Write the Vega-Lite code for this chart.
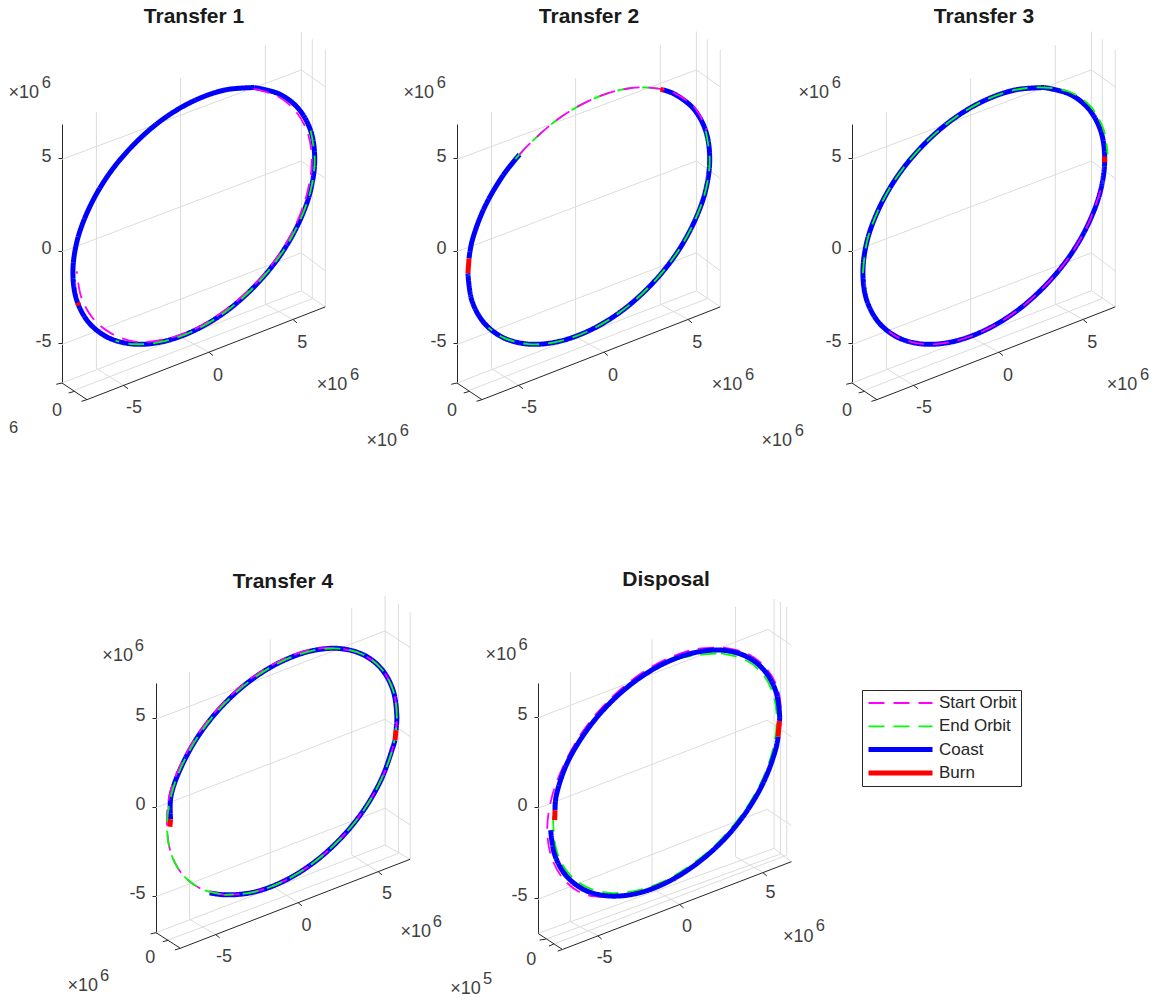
{"$schema":"https://vega.github.io/schema/vega-lite/v6.json","padding":{"left":8,"top":5,"right":0,"bottom":0},"background":"white","config":{"view":{"stroke":null},"title":{"font":"Liberation Sans","fontSize":21,"fontWeight":"bold","color":"#1a1a1a"},"axis":{"labelFont":"Liberation Sans","labelFontSize":18,"labelColor":"#404040","domainColor":"#262626","tickColor":"#262626","grid":false,"title":null,"tickSize":4,"labelPadding":7,"labelOffset":-2,"labelExpr":"datum.value==-5?'-5':datum.label"}},"resolve":{"scale":{"stroke":"independent","strokeDash":"independent","strokeWidth":"independent"}},"datasets":{"box13":[{"k":"grid","g":1,"u":1.86,"z":7.51},{"k":"grid","g":1,"u":1.86,"z":-6.36},{"k":"grid","g":1,"u":3.33,"z":-7.27},{"k":"grid","g":2,"u":6.41,"z":9.32},{"k":"grid","g":2,"u":6.41,"z":-4.65},{"k":"grid","g":2,"u":7.95,"z":-5.48},{"k":"grid","g":3,"u":10.99,"z":11.12},{"k":"grid","g":3,"u":10.99,"z":-2.88},{"k":"grid","g":3,"u":12.49,"z":-3.71},{"k":"grid","g":4,"u":12.94,"z":11.84},{"k":"grid","g":4,"u":12.94,"z":-2.16},{"k":"grid","g":4,"u":14.23,"z":-3.03},{"k":"grid","g":5,"u":13.53,"z":11.42},{"k":"grid","g":5,"u":13.53,"z":-2.58},{"k":"grid","g":6,"u":14.23,"z":10.85},{"k":"grid","g":6,"u":14.23,"z":-3.03},{"k":"grid","g":7,"u":0,"z":4.94},{"k":"grid","g":7,"u":12.94,"z":9.77},{"k":"grid","g":7,"u":14.23,"z":8.86},{"k":"grid","g":8,"u":0,"z":-0.05},{"k":"grid","g":8,"u":12.94,"z":4.85},{"k":"grid","g":8,"u":14.23,"z":3.91},{"k":"grid","g":9,"u":0,"z":-5.06},{"k":"grid","g":9,"u":12.94,"z":-0.11},{"k":"grid","g":9,"u":14.23,"z":-1.08},{"k":"grid","g":10,"u":0,"z":-7.14},{"k":"grid","g":10,"u":12.94,"z":-2.16},{"k":"grid","g":11,"u":0.68,"z":-7.53},{"k":"grid","g":11,"u":13.53,"z":-2.58},{"k":"axis","g":20,"u":0,"z":-7.14},{"k":"axis","g":20,"u":1.35,"z":-8.04},{"k":"axis","g":20,"u":14.23,"z":-3.03},{"k":"axis","g":21,"u":3.33,"z":-7.27},{"k":"axis","g":21,"u":3.57,"z":-7.45},{"k":"axis","g":22,"u":7.95,"z":-5.48},{"k":"axis","g":22,"u":8.16,"z":-5.66},{"k":"axis","g":23,"u":12.49,"z":-3.71},{"k":"axis","g":23,"u":12.7,"z":-3.89},{"k":"axis","g":24,"u":0,"z":-7.14},{"k":"axis","g":24,"u":-0.31,"z":-7.21},{"k":"axis","g":25,"u":0.68,"z":-7.59},{"k":"axis","g":25,"u":0.36,"z":-7.68},{"k":"axis","g":26,"u":1.35,"z":-8.04},{"k":"axis","g":26,"u":1.05,"z":-8.13}],"box4":[{"k":"grid","g":1,"u":1.89,"z":7.6},{"k":"grid","g":1,"u":1.89,"z":-6.34},{"k":"grid","g":1,"u":3.36,"z":-7.2},{"k":"grid","g":2,"u":6.42,"z":9.42},{"k":"grid","g":2,"u":6.42,"z":-4.41},{"k":"grid","g":2,"u":7.99,"z":-5.4},{"k":"grid","g":3,"u":11.01,"z":11.16},{"k":"grid","g":3,"u":11.01,"z":-2.72},{"k":"grid","g":3,"u":12.5,"z":-3.66},{"k":"grid","g":4,"u":12.89,"z":11.86},{"k":"grid","g":4,"u":12.89,"z":-2.16},{"k":"grid","g":4,"u":14.3,"z":-2.96},{"k":"grid","g":5,"u":13.64,"z":11.39},{"k":"grid","g":5,"u":13.64,"z":-2.63},{"k":"grid","g":6,"u":14.3,"z":10.98},{"k":"grid","g":6,"u":14.3,"z":-2.96},{"k":"grid","g":7,"u":0,"z":4.92},{"k":"grid","g":7,"u":12.89,"z":9.89},{"k":"grid","g":7,"u":14.3,"z":8.95},{"k":"grid","g":8,"u":0,"z":-0.06},{"k":"grid","g":8,"u":12.89,"z":4.92},{"k":"grid","g":8,"u":14.3,"z":3.94},{"k":"grid","g":9,"u":0,"z":-5.07},{"k":"grid","g":9,"u":12.89,"z":-0.09},{"k":"grid","g":9,"u":14.3,"z":-1.03},{"k":"grid","g":10,"u":0,"z":-7.09},{"k":"grid","g":10,"u":12.89,"z":-2.16},{"k":"grid","g":11,"u":0.69,"z":-7.5},{"k":"grid","g":11,"u":13.64,"z":-2.63},{"k":"axis","g":20,"u":0,"z":-7.09},{"k":"axis","g":20,"u":1.37,"z":-7.97},{"k":"axis","g":20,"u":14.3,"z":-2.96},{"k":"axis","g":21,"u":3.36,"z":-7.2},{"k":"axis","g":21,"u":3.58,"z":-7.38},{"k":"axis","g":22,"u":7.99,"z":-5.4},{"k":"axis","g":22,"u":8.21,"z":-5.58},{"k":"axis","g":23,"u":12.5,"z":-3.66},{"k":"axis","g":23,"u":12.72,"z":-3.84},{"k":"axis","g":24,"u":0,"z":-7.09},{"k":"axis","g":24,"u":-0.3,"z":-7.16},{"k":"axis","g":25,"u":0.69,"z":-7.52},{"k":"axis","g":25,"u":0.38,"z":-7.6},{"k":"axis","g":26,"u":1.37,"z":-7.97},{"k":"axis","g":26,"u":1.07,"z":-8.06}],"box5":[{"k":"grid","g":1,"u":1.79,"z":7.49},{"k":"grid","g":1,"u":1.79,"z":-6.32},{"k":"grid","g":1,"u":3.31,"z":-7.1},{"k":"grid","g":2,"u":6.3,"z":9.28},{"k":"grid","g":2,"u":6.3,"z":-4.47},{"k":"grid","g":2,"u":7.83,"z":-5.37},{"k":"grid","g":3,"u":10.91,"z":11.08},{"k":"grid","g":3,"u":10.91,"z":-2.73},{"k":"grid","g":3,"u":12.43,"z":-3.61},{"k":"grid","g":4,"u":13.04,"z":11.51},{"k":"grid","g":4,"u":13.04,"z":-2.27},{"k":"grid","g":4,"u":14.0,"z":-3.0},{"k":"grid","g":5,"u":13.39,"z":11.36},{"k":"grid","g":5,"u":13.39,"z":-2.58},{"k":"grid","g":6,"u":13.74,"z":11.07},{"k":"grid","g":6,"u":13.74,"z":-2.64},{"k":"grid","g":7,"u":0,"z":4.95},{"k":"grid","g":7,"u":12.71,"z":9.83},{"k":"grid","g":7,"u":14.0,"z":8.95},{"k":"grid","g":8,"u":0,"z":-0.05},{"k":"grid","g":8,"u":12.65,"z":4.82},{"k":"grid","g":8,"u":14.0,"z":3.9},{"k":"grid","g":9,"u":0,"z":-5.08},{"k":"grid","g":9,"u":12.65,"z":-0.11},{"k":"grid","g":9,"u":14.0,"z":-1.0},{"k":"grid","g":10,"u":0,"z":-6.96},{"k":"grid","g":10,"u":13.04,"z":-2.27},{"k":"grid","g":11,"u":0.43,"z":-7.28},{"k":"grid","g":11,"u":13.39,"z":-2.58},{"k":"grid","g":12,"u":0.87,"z":-7.55},{"k":"grid","g":12,"u":13.74,"z":-2.64},{"k":"axis","g":20,"u":0,"z":-6.96},{"k":"axis","g":20,"u":1.35,"z":-7.85},{"k":"axis","g":20,"u":14.0,"z":-3.0},{"k":"axis","g":21,"u":3.31,"z":-7.1},{"k":"axis","g":21,"u":3.52,"z":-7.28},{"k":"axis","g":22,"u":7.83,"z":-5.37},{"k":"axis","g":22,"u":8.04,"z":-5.55},{"k":"axis","g":23,"u":12.43,"z":-3.61},{"k":"axis","g":23,"u":12.64,"z":-3.79},{"k":"axis","g":24,"u":0.43,"z":-7.28},{"k":"axis","g":24,"u":0.09,"z":-7.33},{"k":"axis","g":25,"u":0.87,"z":-7.55},{"k":"axis","g":25,"u":0.61,"z":-7.66},{"k":"axis","g":26,"u":1.35,"z":-7.85},{"k":"axis","g":26,"u":1.09,"z":-7.94}],"labels":[{"p":"T1","t":"-5","u":3.89,"z":-8.47},{"p":"T1","t":"0","u":8.43,"z":-6.77},{"p":"T1","t":"5","u":12.99,"z":-4.97},{"p":"T1","t":"0","u":-0.27,"z":-8.65},{"p":"T1","t":"×10","u":14.6,"z":-7.26},{"p":"T1","t":"×10","u":-2.07,"z":8.5},{"p":"T2","t":"-5","u":3.89,"z":-8.47},{"p":"T2","t":"0","u":8.43,"z":-6.77},{"p":"T2","t":"5","u":12.99,"z":-4.97},{"p":"T2","t":"0","u":-0.27,"z":-8.65},{"p":"T2","t":"×10","u":14.6,"z":-7.26},{"p":"T2","t":"×10","u":-2.07,"z":8.5},{"p":"T2","t":"×10","u":-4.07,"z":-10.29},{"p":"T3","t":"-5","u":3.89,"z":-8.47},{"p":"T3","t":"0","u":8.43,"z":-6.77},{"p":"T3","t":"5","u":12.99,"z":-4.97},{"p":"T3","t":"0","u":-0.27,"z":-8.65},{"p":"T3","t":"×10","u":14.6,"z":-7.26},{"p":"T3","t":"×10","u":-2.07,"z":8.5},{"p":"T3","t":"×10","u":-4.07,"z":-10.29},{"p":"T4","t":"-5","u":3.83,"z":-8.44},{"p":"T4","t":"0","u":8.46,"z":-6.72},{"p":"T4","t":"5","u":13.0,"z":-4.92},{"p":"T4","t":"0","u":-0.32,"z":-8.54},{"p":"T4","t":"×10","u":14.61,"z":-7.03},{"p":"T4","t":"×10","u":-2.16,"z":8.5},{"p":"T4","t":"×10","u":-4.12,"z":-10.12},{"p":"T5","t":"-5","u":3.68,"z":-8.34},{"p":"T5","t":"0","u":8.23,"z":-6.59},{"p":"T5","t":"5","u":12.84,"z":-4.75},{"p":"T5","t":"0","u":-0.37,"z":-8.43},{"p":"T5","t":"×10","u":14.37,"z":-7.14},{"p":"T5","t":"×10","u":-2.05,"z":8.42},{"p":"T5","t":"×10","u":-4.0,"z":-10.03}],"sups":[{"p":"T1","t":"6","u":15.82,"z":-6.81},{"p":"T1","t":"6","u":-0.85,"z":8.95},{"p":"T1","t":"6","u":-2.61,"z":-9.69},{"p":"T2","t":"6","u":15.82,"z":-6.81},{"p":"T2","t":"6","u":-0.85,"z":8.95},{"p":"T2","t":"6","u":-2.85,"z":-9.84},{"p":"T3","t":"6","u":15.82,"z":-6.81},{"p":"T3","t":"6","u":-0.85,"z":8.95},{"p":"T3","t":"6","u":-2.85,"z":-9.84},{"p":"T4","t":"6","u":15.83,"z":-6.58},{"p":"T4","t":"6","u":-0.94,"z":8.95},{"p":"T4","t":"6","u":-2.9,"z":-9.67},{"p":"T5","t":"6","u":15.59,"z":-6.69},{"p":"T5","t":"6","u":-0.83,"z":8.87},{"p":"T5","t":"5","u":-2.78,"z":-9.58}],"o1":[{"s":"Coast","g":1,"u":10.39,"z":8.82},{"s":"Coast","g":1,"u":11.75,"z":8.47},{"s":"Coast","g":1,"u":12.78,"z":7.68},{"s":"Coast","g":1,"u":13.44,"z":6.49},{"s":"Coast","g":1,"u":13.66,"z":4.99},{"s":"Coast","g":1,"u":13.44,"z":3.27},{"s":"Coast","g":1,"u":12.78,"z":1.47},{"s":"Coast","g":1,"u":11.75,"z":-0.31},{"s":"Coast","g":1,"u":10.39,"z":-1.94},{"s":"Coast","g":1,"u":8.82,"z":-3.31},{"s":"Coast","g":1,"u":7.125,"z":-4.32},{"s":"Coast","g":1,"u":5.43,"z":-4.91},{"s":"Coast","g":1,"u":3.86,"z":-5.04},{"s":"Coast","g":1,"u":2.5,"z":-4.69},{"s":"Coast","g":1,"u":1.47,"z":-3.9},{"s":"Coast","g":1,"u":0.81,"z":-2.71},{"s":"Coast","g":1,"u":0.59,"z":-1.21},{"s":"Coast","g":1,"u":0.81,"z":0.51},{"s":"Coast","g":1,"u":1.47,"z":2.31},{"s":"Coast","g":1,"u":2.5,"z":4.09},{"s":"Coast","g":1,"u":3.86,"z":5.72},{"s":"Coast","g":1,"u":5.43,"z":7.09},{"s":"Coast","g":1,"u":7.125,"z":8.1},{"s":"Coast","g":1,"u":8.82,"z":8.69},{"s":"Coast","g":1,"u":10.39,"z":8.82},{"s":"Start Orbit","g":2,"u":10.36,"z":8.75},{"s":"Start Orbit","g":2,"u":11.66,"z":8.35},{"s":"Start Orbit","g":2,"u":12.64,"z":7.53},{"s":"Start Orbit","g":2,"u":13.28,"z":6.37},{"s":"Start Orbit","g":2,"u":13.5,"z":4.91},{"s":"Start Orbit","g":2,"u":13.28,"z":3.24},{"s":"Start Orbit","g":2,"u":12.67,"z":1.48},{"s":"Start Orbit","g":2,"u":11.68,"z":-0.28},{"s":"Start Orbit","g":2,"u":10.34,"z":-1.9},{"s":"Start Orbit","g":2,"u":8.75,"z":-3.25},{"s":"Start Orbit","g":2,"u":7.13,"z":-4.25},{"s":"Start Orbit","g":2,"u":5.46,"z":-4.8},{"s":"Start Orbit","g":2,"u":3.93,"z":-4.9},{"s":"Start Orbit","g":2,"u":2.66,"z":-4.46},{"s":"Start Orbit","g":2,"u":1.69,"z":-3.67},{"s":"Start Orbit","g":2,"u":1.05,"z":-2.53},{"s":"Start Orbit","g":2,"u":0.8,"z":-1.11},{"s":"End Orbit","g":3,"u":13.44,"z":6.49},{"s":"End Orbit","g":3,"u":13.66,"z":4.99},{"s":"End Orbit","g":3,"u":13.44,"z":3.27},{"s":"End Orbit","g":3,"u":12.78,"z":1.47},{"s":"End Orbit","g":3,"u":11.75,"z":-0.31},{"s":"End Orbit","g":3,"u":10.39,"z":-1.94},{"s":"End Orbit","g":3,"u":8.82,"z":-3.31},{"s":"End Orbit","g":3,"u":7.125,"z":-4.32},{"s":"End Orbit","g":3,"u":5.43,"z":-4.91},{"s":"End Orbit","g":3,"u":3.86,"z":-5.04},{"s":"End Orbit","g":3,"u":2.9,"z":-4.85},{"s":"Burn","g":4,"u":0.85,"z":-2.8},{"s":"Burn","g":4,"u":0.9,"z":-2.95}],"o2":[{"s":"Coast","g":1,"u":11.15,"z":8.69},{"s":"Coast","g":1,"u":11.75,"z":8.47},{"s":"Coast","g":1,"u":12.78,"z":7.68},{"s":"Coast","g":1,"u":13.44,"z":6.49},{"s":"Coast","g":1,"u":13.66,"z":4.99},{"s":"Coast","g":1,"u":13.44,"z":3.27},{"s":"Coast","g":1,"u":12.78,"z":1.47},{"s":"Coast","g":1,"u":11.75,"z":-0.31},{"s":"Coast","g":1,"u":10.39,"z":-1.94},{"s":"Coast","g":1,"u":8.82,"z":-3.31},{"s":"Coast","g":1,"u":7.125,"z":-4.32},{"s":"Coast","g":1,"u":5.43,"z":-4.91},{"s":"Coast","g":1,"u":3.86,"z":-5.04},{"s":"Coast","g":1,"u":2.5,"z":-4.69},{"s":"Coast","g":1,"u":1.47,"z":-3.9},{"s":"Coast","g":1,"u":0.81,"z":-2.71},{"s":"Coast","g":1,"u":0.59,"z":-1.21},{"s":"Coast","g":2,"u":0.65,"z":-0.41},{"s":"Coast","g":2,"u":0.81,"z":0.51},{"s":"Coast","g":2,"u":1.47,"z":2.31},{"s":"Coast","g":2,"u":2.5,"z":4.09},{"s":"Coast","g":2,"u":3.38,"z":5.2},{"s":"End Orbit","g":3,"u":3.15,"z":4.95},{"s":"End Orbit","g":3,"u":3.86,"z":5.72},{"s":"End Orbit","g":3,"u":5.43,"z":7.09},{"s":"End Orbit","g":3,"u":7.125,"z":8.1},{"s":"End Orbit","g":3,"u":8.82,"z":8.69},{"s":"End Orbit","g":3,"u":10.39,"z":8.82},{"s":"End Orbit","g":3,"u":11.15,"z":8.69},{"s":"Start Orbit","g":4,"u":3.38,"z":5.2},{"s":"Start Orbit","g":4,"u":3.86,"z":5.72},{"s":"Start Orbit","g":4,"u":5.43,"z":7.09},{"s":"Start Orbit","g":4,"u":7.125,"z":8.1},{"s":"Start Orbit","g":4,"u":8.82,"z":8.69},{"s":"Start Orbit","g":4,"u":10.39,"z":8.82},{"s":"Start Orbit","g":4,"u":11.75,"z":8.52},{"s":"Start Orbit","g":4,"u":12.85,"z":7.73},{"s":"Start Orbit","g":4,"u":13.5,"z":6.55},{"s":"End Orbit","g":5,"u":13.44,"z":6.49},{"s":"End Orbit","g":5,"u":13.66,"z":4.99},{"s":"End Orbit","g":5,"u":13.44,"z":3.27},{"s":"End Orbit","g":5,"u":12.78,"z":1.47},{"s":"End Orbit","g":5,"u":11.75,"z":-0.31},{"s":"End Orbit","g":5,"u":10.39,"z":-1.94},{"s":"End Orbit","g":5,"u":8.82,"z":-3.31},{"s":"End Orbit","g":5,"u":7.125,"z":-4.32},{"s":"End Orbit","g":5,"u":5.43,"z":-4.91},{"s":"End Orbit","g":5,"u":3.86,"z":-5.04},{"s":"End Orbit","g":5,"u":2.5,"z":-4.69},{"s":"End Orbit","g":5,"u":1.7,"z":-4.15},{"s":"Burn","g":6,"u":0.59,"z":-1.21},{"s":"Burn","g":6,"u":0.65,"z":-0.41},{"s":"Burn","g":7,"u":11.0,"z":8.72},{"s":"Burn","g":7,"u":11.15,"z":8.69}],"o3":[{"s":"Coast","g":1,"u":10.39,"z":8.82},{"s":"Coast","g":1,"u":11.75,"z":8.47},{"s":"Coast","g":1,"u":12.78,"z":7.68},{"s":"Coast","g":1,"u":13.44,"z":6.49},{"s":"Coast","g":1,"u":13.66,"z":4.99},{"s":"Coast","g":1,"u":13.44,"z":3.27},{"s":"Coast","g":1,"u":12.78,"z":1.47},{"s":"Coast","g":1,"u":11.75,"z":-0.31},{"s":"Coast","g":1,"u":10.39,"z":-1.94},{"s":"Coast","g":1,"u":8.82,"z":-3.31},{"s":"Coast","g":1,"u":7.125,"z":-4.32},{"s":"Coast","g":1,"u":5.43,"z":-4.91},{"s":"Coast","g":1,"u":3.86,"z":-5.04},{"s":"Coast","g":1,"u":2.5,"z":-4.69},{"s":"Coast","g":1,"u":1.47,"z":-3.9},{"s":"Coast","g":1,"u":0.81,"z":-2.71},{"s":"Coast","g":1,"u":0.59,"z":-1.21},{"s":"Coast","g":1,"u":0.81,"z":0.51},{"s":"Coast","g":1,"u":1.47,"z":2.31},{"s":"Coast","g":1,"u":2.5,"z":4.09},{"s":"Coast","g":1,"u":3.86,"z":5.72},{"s":"Coast","g":1,"u":5.43,"z":7.09},{"s":"Coast","g":1,"u":7.125,"z":8.1},{"s":"Coast","g":1,"u":8.82,"z":8.69},{"s":"Coast","g":1,"u":10.39,"z":8.82},{"s":"End Orbit","g":2,"u":0.59,"z":-1.21},{"s":"End Orbit","g":2,"u":0.81,"z":0.51},{"s":"End Orbit","g":2,"u":1.47,"z":2.31},{"s":"End Orbit","g":2,"u":2.5,"z":4.09},{"s":"End Orbit","g":2,"u":3.86,"z":5.72},{"s":"End Orbit","g":2,"u":5.43,"z":7.09},{"s":"End Orbit","g":2,"u":7.125,"z":8.1},{"s":"End Orbit","g":2,"u":8.82,"z":8.69},{"s":"End Orbit","g":2,"u":10.39,"z":8.82},{"s":"End Orbit","g":2,"u":11.85,"z":8.55},{"s":"End Orbit","g":2,"u":12.92,"z":7.77},{"s":"End Orbit","g":2,"u":13.6,"z":6.55},{"s":"End Orbit","g":2,"u":13.82,"z":5.2},{"s":"Start Orbit","g":3,"u":13.44,"z":3.27},{"s":"Start Orbit","g":3,"u":12.78,"z":1.47},{"s":"Start Orbit","g":3,"u":11.75,"z":-0.31},{"s":"Start Orbit","g":3,"u":10.39,"z":-1.94},{"s":"Start Orbit","g":3,"u":8.82,"z":-3.31},{"s":"Start Orbit","g":3,"u":7.125,"z":-4.32},{"s":"Start Orbit","g":3,"u":5.43,"z":-4.91},{"s":"Start Orbit","g":3,"u":3.86,"z":-5.04},{"s":"Start Orbit","g":3,"u":2.5,"z":-4.69},{"s":"Start Orbit","g":3,"u":2.0,"z":-4.35},{"s":"Burn","g":4,"u":13.65,"z":5.1},{"s":"Burn","g":4,"u":13.65,"z":4.78}],"o4":[{"s":"Coast","g":1,"u":0.82,"z":-0.71},{"s":"Coast","g":1,"u":0.84,"z":0.59},{"s":"Coast","g":1,"u":1.49,"z":2.39},{"s":"Coast","g":1,"u":2.51,"z":4.17},{"s":"Coast","g":1,"u":3.85,"z":5.8},{"s":"Coast","g":1,"u":5.41,"z":7.17},{"s":"Coast","g":1,"u":7.085,"z":8.18},{"s":"Coast","g":1,"u":8.76,"z":8.77},{"s":"Coast","g":1,"u":10.32,"z":8.9},{"s":"Coast","g":1,"u":11.66,"z":8.55},{"s":"Coast","g":1,"u":12.68,"z":7.76},{"s":"Coast","g":1,"u":13.33,"z":6.57},{"s":"Coast","g":1,"u":13.55,"z":5.07},{"s":"Coast","g":1,"u":13.5,"z":4.3},{"s":"Coast","g":2,"u":13.45,"z":3.75},{"s":"Coast","g":2,"u":13.33,"z":3.35},{"s":"Coast","g":2,"u":12.68,"z":1.55},{"s":"Coast","g":2,"u":11.66,"z":-0.23},{"s":"Coast","g":2,"u":10.32,"z":-1.86},{"s":"Coast","g":2,"u":8.76,"z":-3.23},{"s":"Coast","g":2,"u":7.085,"z":-4.24},{"s":"Coast","g":2,"u":5.41,"z":-4.83},{"s":"Coast","g":2,"u":3.85,"z":-4.96},{"s":"Coast","g":2,"u":3.02,"z":-4.85},{"s":"Start Orbit","g":3,"u":3.85,"z":-4.96},{"s":"Start Orbit","g":3,"u":2.51,"z":-4.61},{"s":"Start Orbit","g":3,"u":1.49,"z":-3.82},{"s":"Start Orbit","g":3,"u":0.84,"z":-2.63},{"s":"Start Orbit","g":3,"u":0.62,"z":-1.13},{"s":"Start Orbit","g":3,"u":0.74,"z":0.57},{"s":"Start Orbit","g":3,"u":1.4,"z":2.4},{"s":"Start Orbit","g":3,"u":2.44,"z":4.2},{"s":"Start Orbit","g":3,"u":3.8,"z":5.86},{"s":"Start Orbit","g":3,"u":5.38,"z":7.25},{"s":"Start Orbit","g":3,"u":7.09,"z":8.27},{"s":"Start Orbit","g":3,"u":8.79,"z":8.86},{"s":"Start Orbit","g":3,"u":10.32,"z":8.9},{"s":"Start Orbit","g":3,"u":11.66,"z":8.55},{"s":"Start Orbit","g":3,"u":12.68,"z":7.76},{"s":"Start Orbit","g":3,"u":13.33,"z":6.57},{"s":"Start Orbit","g":3,"u":13.55,"z":5.07},{"s":"Start Orbit","g":3,"u":13.33,"z":3.35},{"s":"Start Orbit","g":3,"u":12.68,"z":1.55},{"s":"Start Orbit","g":3,"u":11.66,"z":-0.23},{"s":"Start Orbit","g":3,"u":10.32,"z":-1.86},{"s":"Start Orbit","g":3,"u":8.76,"z":-3.23},{"s":"Start Orbit","g":3,"u":7.085,"z":-4.24},{"s":"Start Orbit","g":3,"u":5.41,"z":-4.83},{"s":"Start Orbit","g":3,"u":3.85,"z":-4.96},{"s":"End Orbit","g":4,"u":3.63,"z":-4.92},{"s":"End Orbit","g":4,"u":2.51,"z":-4.61},{"s":"End Orbit","g":4,"u":1.49,"z":-3.82},{"s":"End Orbit","g":4,"u":0.84,"z":-2.63},{"s":"End Orbit","g":4,"u":0.62,"z":-1.13},{"s":"End Orbit","g":4,"u":0.84,"z":0.59},{"s":"End Orbit","g":4,"u":1.49,"z":2.39},{"s":"End Orbit","g":4,"u":2.51,"z":4.17},{"s":"End Orbit","g":4,"u":3.85,"z":5.8},{"s":"End Orbit","g":4,"u":5.41,"z":7.17},{"s":"End Orbit","g":4,"u":7.085,"z":8.18},{"s":"End Orbit","g":4,"u":8.76,"z":8.77},{"s":"End Orbit","g":4,"u":10.32,"z":8.9},{"s":"End Orbit","g":4,"u":11.66,"z":8.55},{"s":"End Orbit","g":4,"u":12.68,"z":7.76},{"s":"End Orbit","g":4,"u":13.33,"z":6.57},{"s":"End Orbit","g":4,"u":13.55,"z":5.07},{"s":"End Orbit","g":4,"u":13.33,"z":3.35},{"s":"End Orbit","g":4,"u":12.68,"z":1.55},{"s":"End Orbit","g":4,"u":11.66,"z":-0.23},{"s":"End Orbit","g":4,"u":10.32,"z":-1.86},{"s":"End Orbit","g":4,"u":8.76,"z":-3.23},{"s":"End Orbit","g":4,"u":7.085,"z":-4.24},{"s":"End Orbit","g":4,"u":5.41,"z":-4.83},{"s":"End Orbit","g":4,"u":3.85,"z":-4.96},{"s":"Burn","g":5,"u":13.5,"z":4.3},{"s":"Burn","g":5,"u":13.45,"z":3.75},{"s":"Burn","g":6,"u":0.78,"z":-1.13},{"s":"Burn","g":6,"u":0.82,"z":-0.71}],"o5":[{"s":"Start Orbit","g":1,"u":10.28,"z":8.82},{"s":"Start Orbit","g":1,"u":11.6,"z":8.48},{"s":"Start Orbit","g":1,"u":12.62,"z":7.67},{"s":"Start Orbit","g":1,"u":13.26,"z":6.5},{"s":"Start Orbit","g":1,"u":13.42,"z":5.0},{"s":"Start Orbit","g":1,"u":13.2,"z":3.28},{"s":"Start Orbit","g":1,"u":12.5,"z":1.48},{"s":"Start Orbit","g":1,"u":11.5,"z":-0.26},{"s":"Start Orbit","g":1,"u":10.19,"z":-1.86},{"s":"Start Orbit","g":1,"u":8.66,"z":-3.19},{"s":"Start Orbit","g":1,"u":7.025,"z":-4.19},{"s":"Start Orbit","g":1,"u":5.39,"z":-4.77},{"s":"Start Orbit","g":1,"u":3.83,"z":-4.95},{"s":"Start Orbit","g":1,"u":2.41,"z":-4.74},{"s":"Start Orbit","g":1,"u":1.39,"z":-3.94},{"s":"Start Orbit","g":1,"u":0.74,"z":-2.74},{"s":"Start Orbit","g":1,"u":0.51,"z":-1.23},{"s":"Start Orbit","g":1,"u":0.74,"z":0.47},{"s":"Start Orbit","g":1,"u":1.38,"z":2.24},{"s":"Start Orbit","g":1,"u":2.42,"z":4.12},{"s":"Start Orbit","g":1,"u":3.76,"z":5.76},{"s":"Start Orbit","g":1,"u":5.34,"z":7.15},{"s":"Start Orbit","g":1,"u":7.03,"z":8.16},{"s":"Start Orbit","g":1,"u":8.71,"z":8.74},{"s":"Start Orbit","g":1,"u":10.28,"z":8.82},{"s":"End Orbit","g":2,"u":10.11,"z":8.51},{"s":"End Orbit","g":2,"u":11.39,"z":8.18},{"s":"End Orbit","g":2,"u":12.37,"z":7.42},{"s":"End Orbit","g":2,"u":12.98,"z":6.29},{"s":"End Orbit","g":2,"u":13.19,"z":4.85},{"s":"End Orbit","g":2,"u":12.98,"z":3.22},{"s":"End Orbit","g":2,"u":12.37,"z":1.49},{"s":"End Orbit","g":2,"u":11.39,"z":-0.21},{"s":"End Orbit","g":2,"u":10.11,"z":-1.77},{"s":"End Orbit","g":2,"u":8.62,"z":-3.06},{"s":"End Orbit","g":2,"u":7.03,"z":-4.04},{"s":"End Orbit","g":2,"u":5.43,"z":-4.6},{"s":"End Orbit","g":2,"u":3.94,"z":-4.72},{"s":"End Orbit","g":2,"u":2.66,"z":-4.39},{"s":"End Orbit","g":2,"u":1.68,"z":-3.63},{"s":"End Orbit","g":2,"u":1.06,"z":-2.5},{"s":"End Orbit","g":2,"u":0.85,"z":-1.06},{"s":"End Orbit","g":2,"u":0.92,"z":0.54},{"s":"End Orbit","g":2,"u":1.55,"z":2.31},{"s":"End Orbit","g":2,"u":2.55,"z":4.05},{"s":"End Orbit","g":2,"u":3.86,"z":5.65},{"s":"End Orbit","g":2,"u":5.39,"z":6.99},{"s":"End Orbit","g":2,"u":7.025,"z":7.98},{"s":"End Orbit","g":2,"u":8.62,"z":8.39},{"s":"End Orbit","g":2,"u":10.11,"z":8.51},{"s":"Coast","g":3,"u":0.94,"z":-0.15},{"s":"Coast","g":3,"u":1.0,"z":0.6},{"s":"Coast","g":3,"u":1.55,"z":2.31},{"s":"Coast","g":3,"u":2.55,"z":4.05},{"s":"Coast","g":3,"u":3.86,"z":5.65},{"s":"Coast","g":3,"u":5.39,"z":6.99},{"s":"Coast","g":3,"u":7.025,"z":7.98},{"s":"Coast","g":3,"u":8.66,"z":8.55},{"s":"Coast","g":3,"u":10.19,"z":8.68},{"s":"Coast","g":3,"u":11.5,"z":8.34},{"s":"Coast","g":3,"u":12.5,"z":7.56},{"s":"Coast","g":3,"u":13.14,"z":6.4},{"s":"Coast","g":3,"u":13.35,"z":4.93},{"s":"Coast","g":3,"u":13.33,"z":4.77},{"s":"Coast","g":4,"u":13.26,"z":3.9},{"s":"Coast","g":4,"u":13.14,"z":3.25},{"s":"Coast","g":4,"u":12.5,"z":1.48},{"s":"Coast","g":4,"u":11.5,"z":-0.26},{"s":"Coast","g":4,"u":10.19,"z":-1.86},{"s":"Coast","g":4,"u":8.66,"z":-3.19},{"s":"Coast","g":4,"u":7.025,"z":-4.19},{"s":"Coast","g":4,"u":5.39,"z":-4.77},{"s":"Coast","g":4,"u":3.86,"z":-4.89},{"s":"Coast","g":4,"u":2.55,"z":-4.55},{"s":"Coast","g":4,"u":1.55,"z":-3.77},{"s":"Coast","g":4,"u":0.92,"z":-2.61},{"s":"Coast","g":4,"u":0.7,"z":-1.25},{"s":"Burn","g":5,"u":13.33,"z":4.77},{"s":"Burn","g":5,"u":13.26,"z":3.9},{"s":"Burn","g":6,"u":0.92,"z":-0.7},{"s":"Burn","g":6,"u":0.94,"z":-0.15}]},"spacing":559,"bounds":"flush","vconcat":[{"spacing":131,"bounds":"flush","resolve":{"scale":{"stroke":"independent","strokeDash":"independent","strokeWidth":"independent"}},"hconcat":[{"width":264,"height":259,"title":{"text":"Transfer 1","offset":3},"encoding":{"x":{"field":"u","type":"quantitative","scale":{"domain":[0,14.27],"nice":false,"zero":false},"axis":null},"y":{"field":"z","type":"quantitative","scale":{"domain":[-7.14,6.85],"nice":false,"zero":false},"axis":{"values":[-5,0,5]}}},"layer":[{"data":{"name":"box13"},"transform":[{"filter":"datum.k=='grid'"},{"window":[{"op":"row_number","as":"i"}]}],"mark":{"type":"line","color":"#dcdcdc","strokeWidth":1},"encoding":{"detail":{"field":"g"},"order":{"field":"i","type":"quantitative"}}},{"data":{"name":"box13"},"transform":[{"filter":"datum.k=='axis'"},{"window":[{"op":"row_number","as":"i"}]}],"mark":{"type":"line","color":"#262626","strokeWidth":1},"encoding":{"detail":{"field":"g"},"order":{"field":"i","type":"quantitative"}}},{"data":{"name":"o1"},"transform":[{"window":[{"op":"row_number","as":"i"}]}],"mark":{"type":"line","interpolate":"catmull-rom","strokeCap":"butt"},"encoding":{"stroke":{"field":"s","type":"nominal","scale":{"domain":["Start Orbit","End Orbit","Coast","Burn"],"range":["#ff00ff","#00ff00","#0000ff","#ff0000"]},"legend":null},"strokeDash":{"field":"s","type":"nominal","scale":{"domain":["Start Orbit","End Orbit","Coast","Burn"],"range":[[16,9],[16,9],[1,0],[1,0]]},"legend":null},"strokeWidth":{"field":"s","type":"nominal","scale":{"type":"ordinal","domain":["Start Orbit","End Orbit","Coast","Burn"],"range":[1.8,1.8,5,5]},"legend":null},"detail":{"field":"g"},"order":{"field":"i","type":"quantitative"}}},{"data":{"name":"labels"},"transform":[{"filter":"datum.p=='T1'"}],"mark":{"type":"text","font":"Liberation Sans","fontSize":18,"color":"#404040","align":"center","baseline":"middle"},"encoding":{"text":{"field":"t"}}},{"data":{"name":"sups"},"transform":[{"filter":"datum.p=='T1'"}],"mark":{"type":"text","font":"Liberation Sans","fontSize":16.5,"dy":-2,"color":"#404040","align":"center","baseline":"middle"},"encoding":{"text":{"field":"t"}}}]},{"width":264,"height":259,"title":{"text":"Transfer 2","offset":3},"encoding":{"x":{"field":"u","type":"quantitative","scale":{"domain":[0,14.27],"nice":false,"zero":false},"axis":null},"y":{"field":"z","type":"quantitative","scale":{"domain":[-7.14,6.85],"nice":false,"zero":false},"axis":{"values":[-5,0,5]}}},"layer":[{"data":{"name":"box13"},"transform":[{"filter":"datum.k=='grid'"},{"window":[{"op":"row_number","as":"i"}]}],"mark":{"type":"line","color":"#dcdcdc","strokeWidth":1},"encoding":{"detail":{"field":"g"},"order":{"field":"i","type":"quantitative"}}},{"data":{"name":"box13"},"transform":[{"filter":"datum.k=='axis'"},{"window":[{"op":"row_number","as":"i"}]}],"mark":{"type":"line","color":"#262626","strokeWidth":1},"encoding":{"detail":{"field":"g"},"order":{"field":"i","type":"quantitative"}}},{"data":{"name":"o2"},"transform":[{"window":[{"op":"row_number","as":"i"}]}],"mark":{"type":"line","interpolate":"catmull-rom","strokeCap":"butt"},"encoding":{"stroke":{"field":"s","type":"nominal","scale":{"domain":["Start Orbit","End Orbit","Coast","Burn"],"range":["#ff00ff","#00ff00","#0000ff","#ff0000"]},"legend":null},"strokeDash":{"field":"s","type":"nominal","scale":{"domain":["Start Orbit","End Orbit","Coast","Burn"],"range":[[16,9],[16,9],[1,0],[1,0]]},"legend":null},"strokeWidth":{"field":"s","type":"nominal","scale":{"type":"ordinal","domain":["Start Orbit","End Orbit","Coast","Burn"],"range":[1.8,1.8,5,5]},"legend":null},"detail":{"field":"g"},"order":{"field":"i","type":"quantitative"}}},{"data":{"name":"labels"},"transform":[{"filter":"datum.p=='T2'"}],"mark":{"type":"text","font":"Liberation Sans","fontSize":18,"color":"#404040","align":"center","baseline":"middle"},"encoding":{"text":{"field":"t"}}},{"data":{"name":"sups"},"transform":[{"filter":"datum.p=='T2'"}],"mark":{"type":"text","font":"Liberation Sans","fontSize":16.5,"dy":-2,"color":"#404040","align":"center","baseline":"middle"},"encoding":{"text":{"field":"t"}}}]},{"width":264,"height":259,"title":{"text":"Transfer 3","offset":3},"encoding":{"x":{"field":"u","type":"quantitative","scale":{"domain":[0,14.27],"nice":false,"zero":false},"axis":null},"y":{"field":"z","type":"quantitative","scale":{"domain":[-7.14,6.85],"nice":false,"zero":false},"axis":{"values":[-5,0,5]}}},"layer":[{"data":{"name":"box13"},"transform":[{"filter":"datum.k=='grid'"},{"window":[{"op":"row_number","as":"i"}]}],"mark":{"type":"line","color":"#dcdcdc","strokeWidth":1},"encoding":{"detail":{"field":"g"},"order":{"field":"i","type":"quantitative"}}},{"data":{"name":"box13"},"transform":[{"filter":"datum.k=='axis'"},{"window":[{"op":"row_number","as":"i"}]}],"mark":{"type":"line","color":"#262626","strokeWidth":1},"encoding":{"detail":{"field":"g"},"order":{"field":"i","type":"quantitative"}}},{"data":{"name":"o3"},"transform":[{"window":[{"op":"row_number","as":"i"}]}],"mark":{"type":"line","interpolate":"catmull-rom","strokeCap":"butt"},"encoding":{"stroke":{"field":"s","type":"nominal","scale":{"domain":["Start Orbit","End Orbit","Coast","Burn"],"range":["#ff00ff","#00ff00","#0000ff","#ff0000"]},"legend":null},"strokeDash":{"field":"s","type":"nominal","scale":{"domain":["Start Orbit","End Orbit","Coast","Burn"],"range":[[16,9],[16,9],[1,0],[1,0]]},"legend":null},"strokeWidth":{"field":"s","type":"nominal","scale":{"type":"ordinal","domain":["Start Orbit","End Orbit","Coast","Burn"],"range":[1.8,1.8,5,5]},"legend":null},"detail":{"field":"g"},"order":{"field":"i","type":"quantitative"}}},{"data":{"name":"labels"},"transform":[{"filter":"datum.p=='T3'"}],"mark":{"type":"text","font":"Liberation Sans","fontSize":18,"color":"#404040","align":"center","baseline":"middle"},"encoding":{"text":{"field":"t"}}},{"data":{"name":"sups"},"transform":[{"filter":"datum.p=='T3'"}],"mark":{"type":"text","font":"Liberation Sans","fontSize":16.5,"dy":-2,"color":"#404040","align":"center","baseline":"middle"},"encoding":{"text":{"field":"t"}}}]}]},{"spacing":128,"bounds":"flush","resolve":{"scale":{"stroke":"independent","strokeDash":"independent","strokeWidth":"independent"}},"hconcat":[{"width":348,"height":250,"title":{"text":"Transfer 4","offset":2,"dx":47},"encoding":{"x":{"field":"u","type":"quantitative","scale":{"domain":[-5.29,14.29],"nice":false,"zero":false},"axis":null},"y":{"field":"z","type":"quantitative","scale":{"domain":[-7.11,6.96],"nice":false,"zero":false},"axis":{"values":[-5,0,5],"offset":-94}}},"layer":[{"data":{"name":"box4"},"transform":[{"filter":"datum.k=='grid'"},{"window":[{"op":"row_number","as":"i"}]}],"mark":{"type":"line","color":"#dcdcdc","strokeWidth":1},"encoding":{"detail":{"field":"g"},"order":{"field":"i","type":"quantitative"}}},{"data":{"name":"box4"},"transform":[{"filter":"datum.k=='axis'"},{"window":[{"op":"row_number","as":"i"}]}],"mark":{"type":"line","color":"#262626","strokeWidth":1},"encoding":{"detail":{"field":"g"},"order":{"field":"i","type":"quantitative"}}},{"data":{"name":"o4"},"transform":[{"window":[{"op":"row_number","as":"i"}]}],"mark":{"type":"line","interpolate":"catmull-rom","strokeCap":"butt"},"encoding":{"stroke":{"field":"s","type":"nominal","scale":{"domain":["Start Orbit","End Orbit","Coast","Burn"],"range":["#ff00ff","#00ff00","#0000ff","#ff0000"]},"legend":null},"strokeDash":{"field":"s","type":"nominal","scale":{"domain":["Start Orbit","End Orbit","Coast","Burn"],"range":[[16,9],[16,9],[1,0],[1,0]]},"legend":null},"strokeWidth":{"field":"s","type":"nominal","scale":{"type":"ordinal","domain":["Start Orbit","End Orbit","Coast","Burn"],"range":[1.8,1.8,5,5]},"legend":null},"detail":{"field":"g"},"order":{"field":"i","type":"quantitative"}}},{"data":{"name":"labels"},"transform":[{"filter":"datum.p=='T4'"}],"mark":{"type":"text","font":"Liberation Sans","fontSize":18,"color":"#404040","align":"center","baseline":"middle"},"encoding":{"text":{"field":"t"}}},{"data":{"name":"sups"},"transform":[{"filter":"datum.p=='T4'"}],"mark":{"type":"text","font":"Liberation Sans","fontSize":16.5,"dy":-2,"color":"#404040","align":"center","baseline":"middle"},"encoding":{"text":{"field":"t"}}}]},{"width":256,"height":250,"title":{"text":"Disposal","offset":7},"encoding":{"x":{"field":"u","type":"quantitative","scale":{"domain":[0,14.14],"nice":false,"zero":false},"axis":null},"y":{"field":"z","type":"quantitative","scale":{"domain":[-6.94,6.87],"nice":false,"zero":false},"axis":{"values":[-5,0,5]}}},"layer":[{"data":{"name":"box5"},"transform":[{"filter":"datum.k=='grid'"},{"window":[{"op":"row_number","as":"i"}]}],"mark":{"type":"line","color":"#dcdcdc","strokeWidth":1},"encoding":{"detail":{"field":"g"},"order":{"field":"i","type":"quantitative"}}},{"data":{"name":"box5"},"transform":[{"filter":"datum.k=='axis'"},{"window":[{"op":"row_number","as":"i"}]}],"mark":{"type":"line","color":"#262626","strokeWidth":1},"encoding":{"detail":{"field":"g"},"order":{"field":"i","type":"quantitative"}}},{"data":{"name":"o5"},"transform":[{"window":[{"op":"row_number","as":"i"}]}],"mark":{"type":"line","interpolate":"catmull-rom","strokeCap":"butt"},"encoding":{"stroke":{"field":"s","type":"nominal","scale":{"domain":["Start Orbit","End Orbit","Coast","Burn"],"range":["#ff00ff","#00ff00","#0000ff","#ff0000"]},"legend":{"title":null,"orient":"none","legendX":324,"legendY":7,"symbolType":"stroke","symbolSize":4096,"clipHeight":18,"rowPadding":5.3,"strokeColor":"#262626","fillColor":"white","padding":4,"labelFont":"Liberation Sans","labelFontSize":17,"labelColor":"#262626","labelOffset":4}},"strokeDash":{"field":"s","type":"nominal","scale":{"domain":["Start Orbit","End Orbit","Coast","Burn"],"range":[[16,9],[16,9],[1,0],[1,0]]},"legend":{"title":null,"orient":"none","legendX":324,"legendY":7,"symbolType":"stroke","symbolSize":4096,"clipHeight":18,"rowPadding":5.3,"strokeColor":"#262626","fillColor":"white","padding":4,"labelFont":"Liberation Sans","labelFontSize":17,"labelColor":"#262626","labelOffset":4}},"strokeWidth":{"field":"s","type":"nominal","scale":{"type":"ordinal","domain":["Start Orbit","End Orbit","Coast","Burn"],"range":[1.8,1.8,5,5]},"legend":{"title":null,"orient":"none","legendX":324,"legendY":7,"symbolType":"stroke","symbolSize":4096,"clipHeight":18,"rowPadding":5.3,"strokeColor":"#262626","fillColor":"white","padding":4,"labelFont":"Liberation Sans","labelFontSize":17,"labelColor":"#262626","labelOffset":4}},"detail":{"field":"g"},"order":{"field":"i","type":"quantitative"}}},{"data":{"name":"labels"},"transform":[{"filter":"datum.p=='T5'"}],"mark":{"type":"text","font":"Liberation Sans","fontSize":18,"color":"#404040","align":"center","baseline":"middle"},"encoding":{"text":{"field":"t"}}},{"data":{"name":"sups"},"transform":[{"filter":"datum.p=='T5'"}],"mark":{"type":"text","font":"Liberation Sans","fontSize":16.5,"dy":-2,"color":"#404040","align":"center","baseline":"middle"},"encoding":{"text":{"field":"t"}}}]}]}]}
